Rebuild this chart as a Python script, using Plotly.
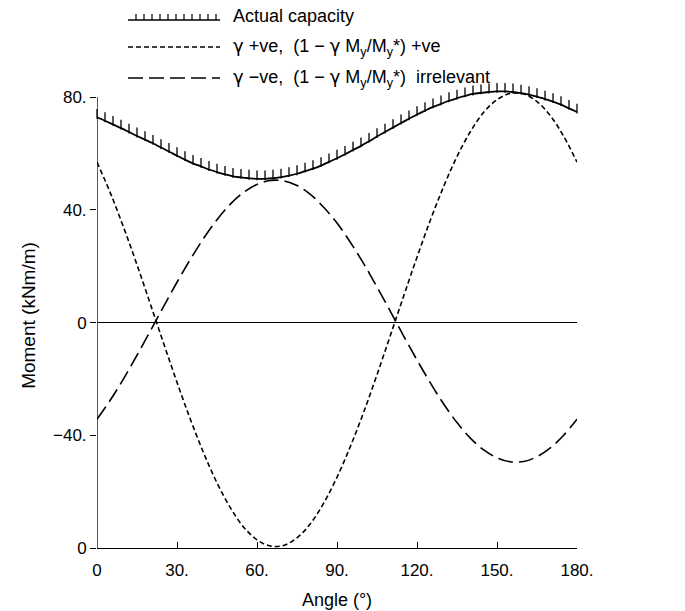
import plotly.graph_objects as go

# ---- data ----
angle_5 = list(range(0, 181, 5))
gamma_pos = [56.9, 46.0, 33.7, 20.5, 6.6, -7.4, -21.2, -34.3, -46.3, -56.9,
             -65.7, -72.6, -77.1, -79.3, -79.1, -76.4, -71.4, -64.1, -54.9, -44.0,
             -31.8, -18.5, -4.6, 9.4, 23.2, 36.3, 48.3, 58.9, 67.7, 74.6,
             79.1, 81.3, 81.1, 78.4, 73.4, 66.1, 56.9]
gamma_neg = [-34.3, -27.5, -19.9, -11.6, -3.0, 5.7, 14.3, 22.4, 29.9, 36.5,
             42.0, 46.2, 49.0, 50.4, 50.3, 48.6, 45.5, 40.9, 35.3, 28.5,
             20.9, 12.6, 4.0, -4.8, -13.3, -21.4, -28.9, -35.5, -41.0, -45.2,
             -48.0, -49.4, -49.3, -47.6, -44.5, -40.0, -34.3]
angle_3 = list(range(0, 181, 3))
capacity = [72.8, 71.6, 70.3, 69.0, 67.6, 66.2, 64.9, 63.6, 62.1, 60.7,
            59.2, 57.8, 56.5, 55.4, 54.3, 53.4, 52.6, 51.9, 51.5, 51.2,
            51.0, 51.0, 51.2, 51.6, 52.1, 52.8, 53.7, 54.6, 55.7, 57.0,
            58.3, 59.7, 61.2, 62.7, 64.3, 66.0, 67.6, 69.2, 70.8, 72.3,
            73.8, 75.2, 76.5, 77.6, 78.7, 79.6, 80.4, 81.1, 81.5, 81.8,
            82.0, 82.0, 81.8, 81.4, 80.9, 80.2, 79.3, 78.4, 77.3, 76.0,
            74.7]
x_ticks = [0, 30, 60, 90, 120, 150, 180]
x_ticktext = ["0", "30.", "60.", "90.", "120.", "150.", "180."]
y_ticks = [-80, -40, 0, 40, 80]
y_ticktext = ["0", "\u221240.", "0", "40.", "80."]
G = "<span style='font-family:DejaVu Sans'>\u03b3</span>"
legend_labels = [
    "Actual capacity",
    G + " +ve,  (1 \u2212 " + G + " M<sub>y</sub>/M<sub>y</sub>*) +ve",
    G + " \u2212ve,  (1 \u2212 " + G + " M<sub>y</sub>/M<sub>y</sub>*)  irrelevant",
]

FONT = "Liberation Sans, Arial, Helvetica, sans-serif"
W, H = 685, 611
L, R, T, B = 97, 108, 83, 63
PW, PH = W - L - R, H - T - B

def px(xp):
    return (xp - L) / PW

def py(yp):
    return (H - B - yp) / PH

fig = go.Figure()
fig.add_trace(go.Scatter(x=angle_5, y=gamma_pos, mode="lines", line_shape="spline",
                         line=dict(color="black", width=1.6, dash="5px,3px"),
                         showlegend=False, hoverinfo="skip"))
fig.add_trace(go.Scatter(x=angle_5, y=gamma_neg, mode="lines", line_shape="spline",
                         line=dict(color="black", width=1.6, dash="15px,6px"),
                         showlegend=False, hoverinfo="skip"))
fig.add_trace(go.Scatter(x=angle_3, y=capacity, mode="lines+markers", line_shape="spline",
                         line=dict(color="black", width=1.8),
                         marker=dict(symbol="line-ns", size=7, standoff=3.5, angle=180,
                                     color="black", line=dict(color="black", width=1.3)),
                         cliponaxis=False, showlegend=False, hoverinfo="skip"))

shapes = []
# y axis line from -80 to 80
shapes.append(dict(type="line", xref="x", yref="y", x0=0, x1=0, y0=-80, y1=80,
                   line=dict(color="black", width=1.3)))
# legend samples
rows_y = [16, 47, 78]
sx0, sx1 = 128, 220
shapes.append(dict(type="line", xref="paper", yref="paper", x0=px(sx0), x1=px(sx1),
                   y0=py(rows_y[0] + 4), y1=py(rows_y[0] + 4),
                   line=dict(color="black", width=1.5)))
path = ""
for k in range(11):
    xx = px(sx0 + 8 + k * 8)
    path += f"M{xx},{py(rows_y[0] + 4)} L{xx},{py(rows_y[0] - 2)} "
shapes.append(dict(type="path", xref="paper", yref="paper", path=path,
                   line=dict(color="black", width=1.2)))
shapes.append(dict(type="line", xref="paper", yref="paper", x0=px(sx0), x1=px(sx1),
                   y0=py(rows_y[1]), y1=py(rows_y[1]),
                   line=dict(color="black", width=1.5, dash="5px,3px")))
shapes.append(dict(type="line", xref="paper", yref="paper", x0=px(sx0), x1=px(sx1),
                   y0=py(rows_y[2]), y1=py(rows_y[2]),
                   line=dict(color="black", width=1.5, dash="15px,6px")))

annotations = []
for lab, yy in zip(legend_labels, rows_y):
    annotations.append(dict(text=lab, xref="paper", yref="paper", x=px(231), y=py(yy),
                            xanchor="left", yanchor="middle", showarrow=False,
                            font=dict(family=FONT, size=18, color="black")))

fig.update_layout(
    width=W, height=H, margin=dict(l=L, r=R, t=T, b=B, autoexpand=False),
    paper_bgcolor="white", plot_bgcolor="white",
    font=dict(family=FONT, size=17, color="black"),
    shapes=shapes, annotations=annotations, showlegend=False,
    xaxis=dict(range=[0, 180], tickvals=x_ticks, ticktext=x_ticktext,
               ticks="inside", ticklen=6, tickcolor="black", tickwidth=1.2,
               showline=True, linecolor="black", linewidth=1.3,
               showgrid=False, zeroline=False, automargin=False,
               tickfont=dict(size=17), ticklabelstandoff=6,
               title=dict(text="Angle (\u00b0)", font=dict(size=18), standoff=14)),
    yaxis=dict(range=[-80, 85], tickvals=y_ticks, ticktext=y_ticktext,
               ticks="outside", ticklen=6, tickcolor="black", tickwidth=1.2,
               showline=False, showgrid=False, automargin=False,
               zeroline=True, zerolinecolor="black", zerolinewidth=1.3,
               tickfont=dict(size=17),
               title=dict(text="Moment (kNm/m)", font=dict(size=19), standoff=12)),
)

fig.write_html("out.html")
